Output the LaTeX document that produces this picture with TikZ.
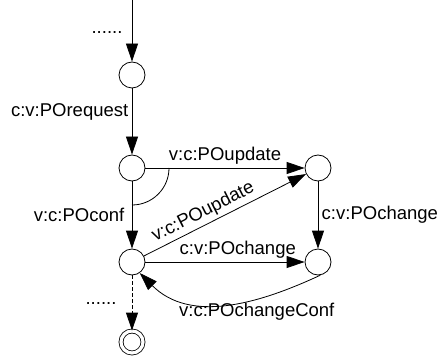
\documentclass[tikz,border=0pt]{standalone}
\usepackage{fontspec}
\setmainfont{Liberation Sans}
\usetikzlibrary{arrows.meta}
\tikzset{
	state/.style={draw, circle, minimum size=26pt, inner sep=0pt},
	final/.style={draw, circle, double, double distance=3.2pt, minimum size=22pt, inner sep=0pt},
	edge/.style={-{Triangle[length=18pt,width=12pt]}},
	lbl/.style={font=\fontsize{18.5}{21}\selectfont}
}
\begin{document}
\begin{tikzpicture}[x=1pt,y=1pt,line width=0.8pt]
			\useasboundingbox (0,0) rectangle (443,356);
			% states
			\foreach \n/\x/\y in {a/132/281, b/132/188, c/132/94, d/318/188, e/318/94}
				\node[state] (\n) at (\x,\y) {};
			\node[final] (f) at (132,14) {};
			% entry
			\coordinate (in) at (132,356);
			\node[lbl] (dotsin) at (107,323) {......};
			\draw[edge] (in) -- (a);
			% request
			\draw[edge] (a) -- node[lbl,left,pos=0.35] (request) {c:v:POrequest} (b);
			% update / conf
			\draw[edge] (b) -- node[lbl,above] (update1) {v:c:POupdate} (d);
			\draw[edge] (b) -- node[lbl,left,xshift=-4pt] (conf) {v:c:POconf} (c);
			\draw (b.center) ++(37,0) arc[start angle=0, end angle=-90, radius=37];
			\draw[edge] (c) -- node[lbl,above,sloped,pos=0.4] (update2) {v:c:POupdate} (d);
			% change
			\draw[edge] (d) -- node[lbl,right] (change1) {c:v:POchange} (e);
			\draw[edge] (c) -- node[lbl,above,pos=0.58] (change2) {c:v:POchange} (e);
			\draw[edge] (e.-80) to[out=-155, in=-45] node[lbl,below,pos=0.33] (changeconf) {v:c:POchangeConf} (c.-55);
			% exit
			\node[lbl] (dotsout) at (101,52) {......};
			\draw[edge, dash pattern=on 4pt off 2pt] (c) -- (f);
\end{tikzpicture}
\end{document}
